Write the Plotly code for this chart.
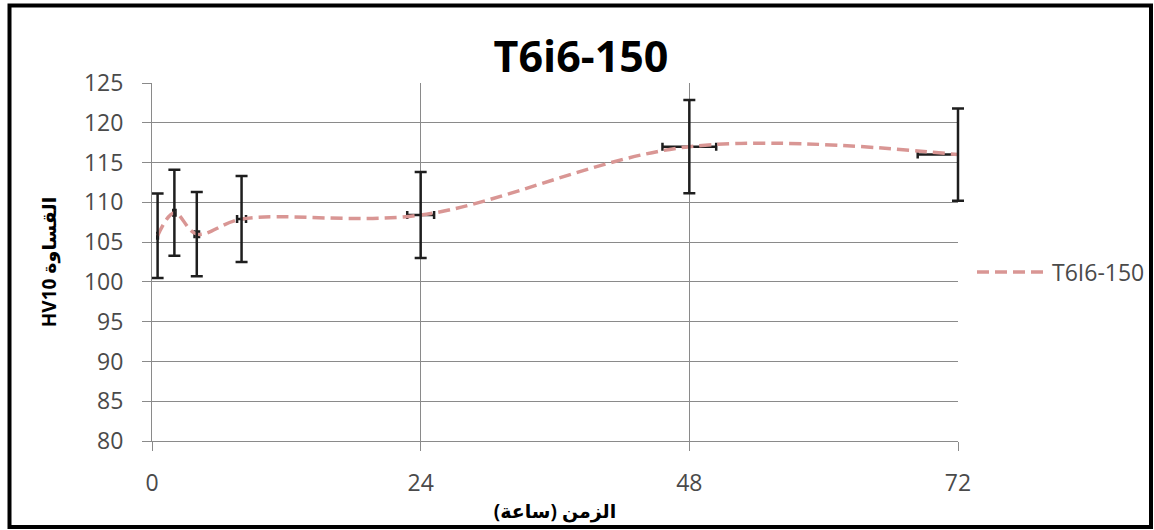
import plotly.graph_objects as go

# Hardness (HV10) versus ageing time for sample T6i6-150
hours = [0.5, 2, 4, 8, 24, 48, 72]
hardness = [105.8, 108.7, 106.0, 107.9, 108.4, 117.0, 116.0]
hardness_err = [5.3, 5.4, 5.3, 5.4, 5.4, 5.85, 5.8]
hours_err = [0.03, 0.1, 0.2, 0.4, 1.2, 2.4, 3.6]

x_ticks = [0, 24, 48, 72]
y_ticks = [80, 85, 90, 95, 100, 105, 110, 115, 120, 125]

series_name = "T6I6-150"
title_text = "T6i6-150"
x_title = "الزمن (ساعة)"
y_title = "HV10 القساوة"

FONT = "Open Sans, DejaVu Sans, sans-serif"
GRID = "#8a8a8a"
TICK_COLOR = "#4a4a4a"
BAR_COLOR = "#1e1e1e"

W, H = 1154, 530
L, T, B = 152, 83, 89
PLOT_RIGHT = 958          # right edge of the time axis (px)
R = W - PLOT_RIGHT - 12   # a little spare room so caps at 72 h are not cut
X_MAX = 72
Y_RANGE = [80, 125]

pw = W - L - R
ph = H - T - B
main_frac = (PLOT_RIGHT - L) / pw


def px_x(p):
    return (p - L) / pw


def px_y(p):
    return (H - B - p) / ph


fig = go.Figure()
# smoothed dashed curve with horizontal error bars (clipped at 72 h)
fig.add_trace(go.Scatter(
    x=hours,
    y=hardness,
    name=series_name,
    mode="lines",
    line=dict(color="#d99694", width=3.5, dash="12px,6px", shape="spline", smoothing=1),
    error_x=dict(type="data", array=hours_err, visible=True,
                 color=BAR_COLOR, thickness=2.5, width=4),
    xaxis="x", yaxis="y",
))
# vertical error bars on twin axes sharing the same scales
fig.add_trace(go.Scatter(
    x=hours,
    y=hardness,
    name=series_name,
    mode="markers",
    marker=dict(size=0.1, color="rgba(0,0,0,0)"),
    error_y=dict(type="data", array=hardness_err, visible=True,
                 color=BAR_COLOR, thickness=2.5, width=6),
    showlegend=False,
    hoverinfo="skip",
    xaxis="x2", yaxis="y2",
))

# outer chart frame
fig.add_shape(type="rect", xref="paper", yref="paper",
              x0=px_x(9.5), x1=px_x(1151), y0=px_y(527), y1=px_y(5.5),
              line=dict(color="black", width=4), fillcolor="rgba(0,0,0,0)",
              layer="above")

fig.update_layout(
    width=W, height=H,
    margin=dict(l=L, r=R, t=T, b=B, autoexpand=False),
    paper_bgcolor="white",
    plot_bgcolor="rgba(0,0,0,0)",
    font=dict(family=FONT, color=TICK_COLOR),
    title=dict(text=title_text, x=581 / W, xref="container", xanchor="center",
               y=1 - 57 / H, yref="container", yanchor="middle",
               font=dict(family=FONT, size=43, color="black", weight="bold")),
    showlegend=True,
    legend=dict(x=px_x(972), y=px_y(272), xanchor="left", yanchor="middle",
                xref="paper", yref="paper",
                font=dict(family=FONT, size=23, color=TICK_COLOR),
                bgcolor="rgba(0,0,0,0)", itemwidth=70),
    xaxis=dict(
        domain=[0, main_frac],
        range=[0, X_MAX], tickvals=x_ticks, ticktext=[str(v) for v in x_ticks],
        showgrid=True, gridcolor=GRID, gridwidth=1,
        showline=True, linecolor=GRID, linewidth=1,
        ticks="outside", ticklen=9, tickcolor=GRID,
        zeroline=False,
        tickfont=dict(family=FONT, size=23, color=TICK_COLOR),
        ticklabelstandoff=12,
        title=dict(text=x_title, standoff=8,
                   font=dict(family=FONT, size=19, color="black", weight="bold")),
    ),
    xaxis2=dict(
        domain=[0, 1],
        range=[0, X_MAX / main_frac],
        visible=False, showgrid=False, zeroline=False,
        anchor="y2",
    ),
    yaxis=dict(
        range=Y_RANGE, tickvals=y_ticks, ticktext=[str(v) for v in y_ticks],
        showgrid=True, gridcolor=GRID, gridwidth=1,
        showline=True, linecolor=GRID, linewidth=1,
        ticks="outside", ticklen=9, tickcolor=GRID,
        zeroline=False,
        tickfont=dict(family=FONT, size=23, color=TICK_COLOR),
        ticklabelstandoff=14,
        title=dict(text=y_title, standoff=22,
                   font=dict(family=FONT, size=19, color="black", weight="bold")),
    ),
    yaxis2=dict(
        domain=[0, 1],
        range=Y_RANGE,
        visible=False, showgrid=False, zeroline=False,
        anchor="x2",
    ),
)

fig.write_html("out.html")
